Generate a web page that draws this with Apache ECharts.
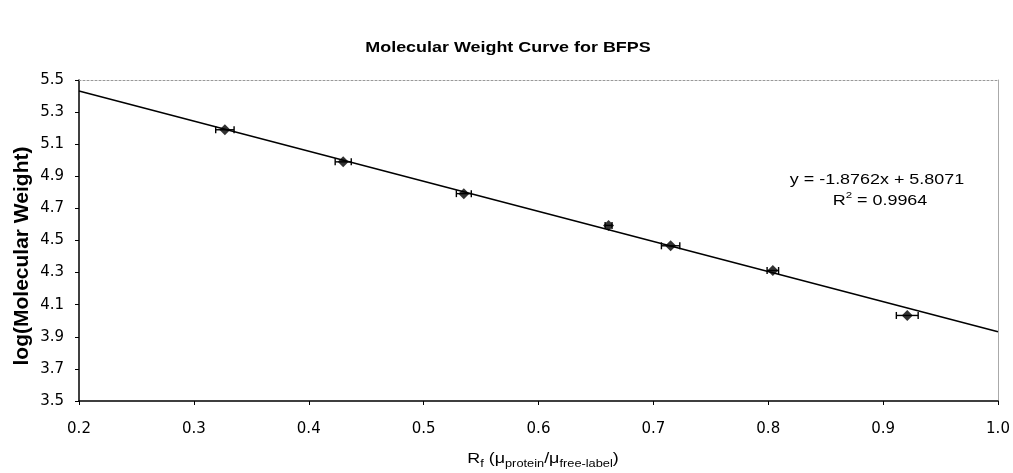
<!DOCTYPE html>
<html>
<head>
<meta charset="utf-8">
<script src="https://cdn.jsdelivr.net/npm/echarts@6/dist/echarts.min.js"></script>
<style>html,body{margin:0;padding:0;background:#fff}#c{width:1013px;height:473px}</style>
</head>
<body>
<div id="c"></div>
<script>
// Data
const rfValues = [0.327, 0.430, 0.535, 0.661, 0.715, 0.804, 0.921];
const logMW = [5.190, 4.990, 4.792, 4.594, 4.467, 4.313, 4.033];
const rfError = [0.008, 0.007, 0.0065, 0.003, 0.008, 0.005, 0.0095];
const trendX = [0.2, 1.0];
const trendY = [5.432, 3.931];
const equationText = 'y = -1.8762x + 5.8071';
const r2Value = '0.9964';
const titleText = 'Molecular Weight Curve for BFPS';
const yAxisName = 'log(Molecular Weight)';

const points = rfValues.map((x, i) => [x, logMW[i]]);
const errData = rfValues.map((x, i) => [x, logMW[i], rfError[i]]);
const trendData = trendX.map((x, i) => [x, trendY[i]]);

const chart = echarts.init(document.getElementById('c'), null, {renderer: 'canvas'});
const FONT = 'Liberation Sans, Arial, sans-serif';
const TICKFONT = 'DejaVu Sans, sans-serif';
const SX = 1.28; // horizontal stretch seen in the reference text
chart.setOption({
  backgroundColor: '#fff',
  animation: false,
  grid: {left: 79, right: 15, top: 80, bottom: 72, containLabel: false},
  xAxis: [{
    type: 'value', min: 0.2, max: 1.0, interval: 0.1,
    axisLine: {show: true, onZero: false, lineStyle: {color: '#000', width: 1.5}},
    axisTick: {show: true, inside: false, length: 4, lineStyle: {color: '#000'}},
    axisLabel: {formatter: v => v.toFixed(1), color: '#000', fontFamily: TICKFONT, fontSize: 15, margin: 21},
    splitLine: {show: false}
  }, {
    type: 'value', position: 'top', min: 0.2, max: 1.0,
    axisLine: {show: true, onZero: false, lineStyle: {color: '#999', type: [2, 2], width: 1}},
    axisTick: {show: false}, axisLabel: {show: false}, splitLine: {show: false}
  }],
  yAxis: [{
    type: 'value', min: 3.5, max: 5.5, interval: 0.2,
    axisLine: {show: true, onZero: false, lineStyle: {color: '#000', width: 1.5}},
    axisTick: {show: true, inside: false, length: 4, lineStyle: {color: '#000'}},
    axisLabel: {formatter: v => v.toFixed(1), color: '#000', fontFamily: TICKFONT, fontSize: 15, margin: 15},
    splitLine: {show: false}
  }, {
    type: 'value', position: 'right', min: 3.5, max: 5.5,
    axisLine: {show: true, onZero: false, lineStyle: {color: '#aaa', width: 1}},
    axisTick: {show: false}, axisLabel: {show: false}, splitLine: {show: false}
  }],
  series: [{
    type: 'line', data: trendData, symbol: 'none',
    lineStyle: {color: '#000', width: 1.5}, z: 2
  }, {
    type: 'custom', data: errData, z: 3,
    renderItem: function (params, api) {
      const x = api.value(0), y = api.value(1), e = api.value(2);
      const p1 = api.coord([x - e, y]);
      const p2 = api.coord([x + e, y]);
      const h = 3.5;
      const st = {stroke: '#000', lineWidth: 1.4};
      return {type: 'group', children: [
        {type: 'line', shape: {x1: p1[0], y1: p1[1], x2: p2[0], y2: p2[1]}, style: st},
        {type: 'line', shape: {x1: p1[0], y1: p1[1] - h, x2: p1[0], y2: p1[1] + h}, style: st},
        {type: 'line', shape: {x1: p2[0], y1: p2[1] - h, x2: p2[0], y2: p2[1] + h}, style: st}
      ]};
    }
  }, {
    type: 'scatter', data: points, symbol: 'diamond', symbolSize: [11, 11],
    itemStyle: {color: '#000'}, z: 4
  }],
  graphic: [{
    type: 'text', x: 508, y: 48, scaleX: SX,
    style: {text: titleText, font: 'bold 14px ' + FONT, fill: '#000', align: 'center', verticalAlign: 'middle'}
  }, {
    type: 'text', x: 22, y: 256, rotation: Math.PI / 2,
    style: {text: yAxisName, font: 'bold 21px ' + FONT, fill: '#000', align: 'center', verticalAlign: 'middle'}
  }, {
    type: 'text', x: 543, y: 457, scaleX: SX,
    style: {
      text: '{a|R}{s|f}{a| (μ}{s|protein}{a|/μ}{s|free-label}{a|)}',
      align: 'center', verticalAlign: 'middle',
      rich: {
        a: {font: '14px ' + FONT, fill: '#000', lineHeight: 18, verticalAlign: 'bottom'},
        s: {font: '10px ' + FONT, fill: '#000', lineHeight: 18, verticalAlign: 'bottom', padding: [0, 0, -3, 0]}
      }
    }
  }, {
    type: 'text', x: 877, y: 180, scaleX: SX,
    style: {text: equationText, font: '14px ' + FONT, fill: '#000', align: 'center', verticalAlign: 'middle'}
  }, {
    type: 'text', x: 880, y: 199, scaleX: SX,
    style: {
      text: '{a|R}{b|2}{a| = ' + r2Value + '}',
      align: 'center', verticalAlign: 'middle',
      rich: {
        a: {font: '14px ' + FONT, fill: '#000', lineHeight: 18, verticalAlign: 'bottom'},
        b: {font: '9px ' + FONT, fill: '#000', lineHeight: 18, verticalAlign: 'top', padding: [1, 0, 0, 0]}
      }
    }
  }]
});
</script>
</body>
</html>
